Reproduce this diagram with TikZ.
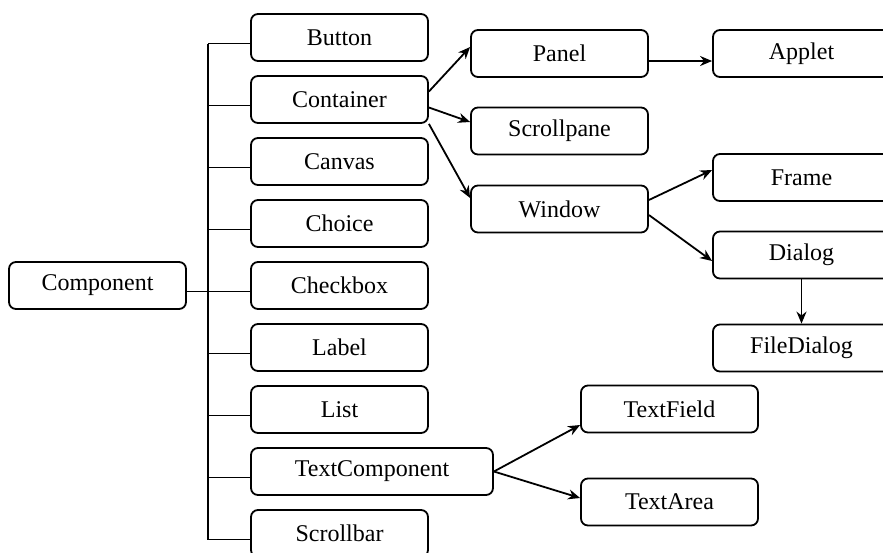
\documentclass[tikz,border=0pt]{standalone}
\usepackage{fontspec}
\setmainfont{Liberation Serif}
\usetikzlibrary{arrows.meta,positioning}

\begin{document}
\begin{tikzpicture}[x=0.5pt,y=-0.5pt,
  box/.style={draw,rounded corners=3.5pt,line width=0.9pt,minimum width=88.5pt,minimum height=23.5pt,inner sep=0pt,font=\fontsize{12}{14}\selectfont},
  link/.style={line width=0.9pt},
  arr/.style={link,-{Stealth[length=6pt,width=5pt]}},
]
  \useasboundingbox (0,0) rectangle (883,552);

  \node[box] (comp) at (97.5,285.5) {Component};

  % first level
  \node[box] (button) at (339.5,37.5) {Button};
  \node[box] (container) at (339.5,99.5) {Container};
  \node[box] (canvas) at (339.5,161.5) {Canvas};
  \node[box] (choice) at (339.5,223.5) {Choice};
  \node[box] (checkbox) at (339.5,285.5) {Checkbox};
  \node[box] (lbl) at (339.5,347.5) {Label};
  \node[box] (list) at (339.5,409.5) {List};
  \node[box,minimum width=121pt] (textcomp) at (372,471.5) {TextComponent};
  \node[box] (scrollbar) at (339.5,533.5) {Scrollbar};

  % containers
  \node[box] (panel) at (559.5,53.5) {Panel};
  \node[box] (scrollpane) at (559.5,131) {Scrollpane};
  \node[box] (window) at (559.5,209) {Window};
  \node[box] (applet) at (801.5,53.5) {Applet};
  \node[box] (frame) at (801.5,177.5) {Frame};
  \node[box] (dialog) at (801.5,255) {Dialog};
  \node[box] (filedialog) at (801.5,348) {FileDialog};

  % text components
  \node[box] (textfield) at (669.5,409) {TextField};
  \node[box] (textarea) at (669.5,502) {TextArea};

  % tree on the left
  \coordinate (trunk) at (208,0);
  \draw[link] ([yshift=-3pt]comp.east) -- ([yshift=-3pt]checkbox.west);
  \draw[link] ([yshift=-3pt]button.west -| trunk) -- ([yshift=-3pt]scrollbar.west -| trunk);
  \foreach \n in {button,container,canvas,choice,lbl,list,textcomp,scrollbar}
    \draw[link] ([yshift=-3pt]\n.west) -- ([yshift=-3pt]\n.west -| trunk);

  \draw[arr] ([yshift=4pt]container.east) -- ([yshift=3.25pt]panel.west);
  \draw[arr] ([yshift=-4pt]container.east) -- ([yshift=4.5pt]scrollpane.west);
  \draw[arr] (container.south east) -- ([yshift=5.5pt]window.west);
  \draw[arr] ([yshift=-3.75pt]panel.east) -- ([yshift=-3.75pt]panel.east -| applet.west);
  \draw[arr] ([yshift=4.5pt]window.east) -- ([yshift=3.75pt]frame.west);
  \draw[arr] ([yshift=-3pt]window.east) -- ([yshift=-3pt]dialog.west);
  \draw[arr] (dialog.south) -- (filedialog.north);
  \draw[arr] (textcomp.east) -- ([yshift=-8pt]textfield.west);
  \draw[arr] (textcomp.east) -- ([yshift=2pt]textarea.west);
\end{tikzpicture}
\end{document}
